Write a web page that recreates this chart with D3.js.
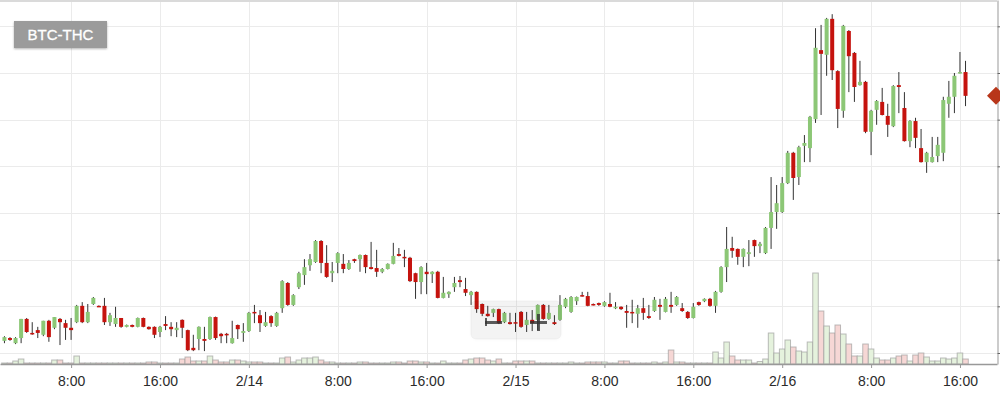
<!DOCTYPE html>
<html>
<head>
<meta charset="utf-8">
<script src="https://cdn.jsdelivr.net/npm/d3@7"></script>
<style>
  html, body { margin:0; padding:0; background:#fff; }
  svg { display:block; font-family:"Liberation Sans", Arial, Helvetica, sans-serif; }
</style>
</head>
<body>
<div id="chart"></div>
<script>
// pair + candle timing (30 min candles)
const pair = "BTC-THC";
const firstCandle = new Date(2018, 1, 13, 2, 0);
const candleMinutes = 30;

// OHLC (price units, gridline step = 10)
const open = [
  22.6,23.2,22.1,23.2,27.3,24.3,24.9,23.9,26.9,25.4,
  27.3,26.4,25.4,26.6,30.1,26.6,30.5,30.1,30.1,26.6,
  26.2,27.5,25.6,26.0,25.6,27.5,25.6,25.6,24.5,26.2,
  25.6,24.9,27.1,24.9,21.1,23.0,23.0,23.0,27.7,24.1,
  24.1,22.1,26.0,24.3,24.7,28.8,28.1,25.8,27.9,25.8,
  29.6,35.0,30.3,34.1,36.7,38.8,39.5,44.0,39.3,37.1,
  39.3,39.1,38.0,40.1,40.1,41.0,38.4,38.2,37.4,38.0,
  39.1,41.2,40.6,40.4,37.1,35.2,37.4,36.9,37.4,31.8,
  32.6,34.1,35.6,33.7,32.4,33.1,30.5,28.4,28.6,29.4,
  26.6,26.6,26.6,28.8,26.0,27.1,27.1,30.3,27.3,26.6,
  27.1,29.9,28.8,31.1,32.4,32.2,30.5,30.7,30.1,30.5,
  29.6,29.9,29.0,28.8,28.4,29.6,27.9,29.0,30.3,28.8,
  30.3,30.3,29.6,28.8,27.5,30.9,31.1,31.6,30.1,33.1,
  38.4,42.5,42.3,40.6,41.2,44.2,42.9,41.4,46.8,50.2,
  50.2,56.4,62.9,57.7,64.4,63.9,70.1,84.9,83.9,91.6,
  80.4,71.9,89.0,84.3,77.4,78.1,67.4,72.1,73.8,70.8,
  68.6,77.4,72.5,65.4,69.7,63.9,60.9,60.9,62.2,62.9,
  73.4,74.9,80.0,80.2
];
const high = [
  23.6,23.4,23.4,27.3,27.5,26.6,25.6,26.9,27.1,27.7,
  27.5,27.1,27.5,30.3,30.9,30.5,32.0,30.2,31.8,28.6,
  29.9,27.5,26.1,26.1,27.6,27.6,25.7,25.7,25.8,27.9,
  26.6,26.6,27.2,25.0,23.9,25.7,25.6,27.8,27.8,24.3,
  24.3,26.9,26.1,26.4,28.8,30.3,29.2,28.8,28.1,28.8,
  35.6,35.2,32.6,37.4,40.1,41.2,44.2,44.2,43.1,39.5,
  41.6,41.2,39.9,40.2,41.1,41.1,43.8,42.1,38.2,39.2,
  43.6,42.5,42.1,40.6,37.2,38.6,39.3,37.5,37.6,36.3,
  33.2,36.3,36.5,36.1,33.3,33.2,30.6,30.1,29.5,29.5,
  28.8,28.6,28.6,29.0,28.8,29.2,30.4,30.5,30.3,28.1,
  32.4,31.8,32.2,32.1,33.1,33.1,30.6,30.8,31.1,32.9,
  30.9,30.0,30.3,31.4,30.3,31.8,30.3,32.0,31.6,32.0,
  33.1,32.2,30.7,29.0,30.7,31.0,31.7,31.8,33.3,38.6,
  47.0,44.9,42.4,42.4,44.2,44.3,43.8,47.0,57.7,56.0,
  57.7,63.3,63.1,64.4,66.7,70.8,89.6,90.3,91.8,92.6,
  80.6,90.3,89.2,84.5,82.6,78.3,72.1,74.2,76.8,73.4,
  77.4,80.2,75.9,69.9,70.4,68.0,63.1,66.3,66.3,74.9,
  78.3,80.0,84.5,82.6
];
const low = [
  22.1,22.6,21.9,22.1,24.3,23.9,23.2,23.6,22.4,25.1,
  21.7,22.8,22.8,26.4,26.4,26.4,30.3,29.9,26.0,25.8,
  25.6,25.4,25.5,25.5,25.5,25.5,25.0,23.2,23.4,24.9,
  23.6,23.4,23.2,20.4,20.4,20.6,20.4,22.8,22.8,22.1,
  22.1,22.0,23.0,22.4,24.5,26.4,24.5,25.6,25.6,25.6,
  28.6,30.1,30.1,33.7,34.6,37.6,39.3,37.1,36.1,35.2,
  37.1,37.1,37.8,39.3,37.4,37.1,37.9,36.3,37.1,37.9,
  39.0,40.7,38.4,35.2,31.6,32.6,32.6,35.0,31.7,31.7,
  31.8,33.1,34.1,32.2,30.3,28.6,27.9,27.8,27.7,26.2,
  26.4,26.1,24.5,25.4,24.5,24.7,24.9,27.1,27.1,26.0,
  26.9,29.6,28.6,30.3,32.1,30.0,30.2,30.1,29.9,29.8,
  29.4,29.2,25.4,26.4,25.4,27.1,27.3,28.8,27.1,28.7,
  28.6,30.1,28.8,27.3,27.4,30.1,30.9,29.9,28.6,32.9,
  35.2,40.4,38.9,38.4,38.6,40.6,41.4,41.2,42.3,46.6,
  50.0,56.2,52.8,56.0,60.9,60.9,69.3,71.0,79.4,78.5,
  68.2,70.4,75.9,73.8,77.3,67.1,62.4,68.9,70.9,66.3,
  68.4,71.4,65.3,64.1,63.9,60.8,58.6,60.8,60.9,61.1,
  70.4,71.4,79.9,72.9
];
const close = [
  23.4,22.8,23.2,27.3,24.5,24.1,24.3,26.9,23.4,27.7,
  26.6,25.4,24.9,30.1,26.6,28.8,31.8,30.0,26.6,28.1,
  27.5,25.6,26.0,25.6,27.5,25.6,25.1,23.9,25.6,25.8,
  25.1,25.4,25.4,20.6,20.6,25.6,22.6,27.7,23.2,23.6,
  23.9,23.2,25.1,24.7,28.6,28.6,26.4,26.6,26.4,28.6,
  35.4,30.3,32.4,37.1,38.4,40.1,44.0,39.3,36.3,37.6,
  41.4,38.0,39.3,39.7,41.0,38.4,38.0,37.4,38.0,39.1,
  40.8,40.8,40.4,35.4,35.2,38.4,36.9,37.4,31.8,32.9,
  33.1,35.0,35.2,32.9,33.1,29.4,28.4,27.9,29.4,26.4,
  28.6,26.2,26.4,25.6,27.1,26.4,30.3,27.3,28.6,26.2,
  30.3,31.6,32.0,32.0,32.2,30.1,30.3,30.3,30.9,29.9,
  29.9,29.4,28.6,28.6,29.6,28.6,27.5,31.4,29.9,31.6,
  29.9,32.0,29.0,27.5,29.9,30.3,31.6,30.1,33.1,38.4,
  42.3,41.9,40.6,42.3,41.6,42.9,43.4,46.8,50.2,52.1,
  56.4,62.9,57.5,64.1,65.0,70.6,85.4,84.1,91.6,80.6,
  72.3,90.1,83.6,77.0,78.1,67.4,71.9,74.0,71.0,68.9,
  77.2,77.0,65.4,69.7,66.1,60.9,62.9,62.0,64.6,74.2,
  74.9,79.4,80.2,75.1
];
const volume = [
  1,1,3,5,1,1,1,1,1,4,
  4,1,1,8,1,1,1,1,1,1,
  1,1,1,1,1,1,2,2,1,1,
  1,1,5,7,3,3,3,8,4,2,
  2,4,4,3,2,2,2,1,1,1,
  6,7,2,4,6,6,7,4,2,2,
  1,1,1,1,2,2,1,1,1,1,
  2,2,1,3,3,2,2,1,1,3,
  1,1,1,4,5,6,6,4,3,5,
  1,1,3,3,3,3,1,1,1,1,
  1,1,2,1,1,2,2,2,2,1,
  1,3,3,1,1,1,1,2,1,2,
  14,2,2,1,1,1,1,1,12,6,
  22,8,4,4,4,1,2.5,5,31,11,
  15,24,17,13,12,22,91,53,38,31,
  39,30,20,8,8,20,15,6,4,4,
  6,8,9,3,9,11,7,3,3,6,
  5,6,11,5
];

const priceTicks = [20, 30, 40, 50, 60, 70, 80, 90];

const data = open.map((o, i) => ({
  time: d3.timeMinute.offset(firstCandle, candleMinutes * i),
  open: o, high: high[i], low: low[i], close: close[i], volume: volume[i]
}));

// =============================
// SETUP
// =============================
const W = 1000, H = 394;
const plotW = 997, plotH = 364;

const svg = d3.select("#chart").append("svg")
  .attr("width", W).attr("height", H);

const x = d3.scaleTime()
  .domain([new Date(2018, 1, 13, 1, 36), new Date(2018, 1, 16, 19, 20)])
  .range([0, plotW]);
const y = d3.scaleLinear().domain([17.64, 95.64]).range([plotH, 0]);
const yVol = d3.scaleLinear().domain([0, 100]).range([plotH, plotH - 100]);

const defs = svg.append("defs");
defs.append("clipPath").attr("id", "plotClip")
  .append("rect").attr("width", plotW).attr("height", plotH);
const shadow = defs.append("filter").attr("id", "shadow")
  .attr("x", "-20%").attr("y", "-20%").attr("width", "140%").attr("height", "160%");
shadow.append("feDropShadow")
  .attr("dx", 0).attr("dy", 1).attr("stdDeviation", 1)
  .attr("flood-color", "#000").attr("flood-opacity", 0.3);

// =============================
// GRID
// =============================
const xTicks = x.ticks(d3.timeHour.every(8));

svg.append("g").selectAll("line")
  .data(priceTicks).join("line")
  .attr("x1", 0).attr("x2", plotW)
  .attr("y1", d => Math.round(y(d)) + 0.5).attr("y2", d => Math.round(y(d)) + 0.5)
  .attr("stroke", "#ebebeb");

svg.append("g").selectAll("line")
  .data(xTicks).join("line")
  .attr("x1", d => Math.round(x(d)) + 0.5).attr("x2", d => Math.round(x(d)) + 0.5)
  .attr("y1", 0).attr("y2", plotH)
  .attr("stroke", "#ebebeb");

svg.append("line")
  .attr("x1", 0).attr("x2", plotW).attr("y1", 1).attr("y2", 1)
  .attr("stroke", "#dadada").attr("stroke-width", 2);

const plot = svg.append("g").attr("clip-path", "url(#plotClip)");

// =============================
// VOLUME
// =============================
const half = (x(d3.timeMinute.offset(firstCandle, candleMinutes)) - x(firstCandle)) / 2;

plot.append("g").selectAll("rect")
  .data(data).join("rect")
  .attr("x", d => x(d.time) - half)
  .attr("width", half * 2)
  .attr("y", d => yVol(d.volume))
  .attr("height", d => plotH - yVol(d.volume))
  .attr("fill", d => d.close >= d.open ? "#e5f2dd" : "#f6d7d5")
  .attr("stroke", "#9a9a9a").attr("stroke-opacity", 0.65).attr("stroke-width", 1);

// =============================
// CANDLES
// =============================
const up = "#8cc776", down = "#c5130e";

plot.append("g").selectAll("line")
  .data(data).join("line")
  .attr("x1", d => x(d.time)).attr("x2", d => x(d.time))
  .attr("y1", d => y(d.high)).attr("y2", d => y(d.low))
  .attr("stroke", "#333").attr("stroke-width", 1);

plot.append("g").selectAll("rect")
  .data(data).join("rect")
  .attr("x", d => x(d.time) - 2)
  .attr("width", 4)
  .attr("y", d => y(Math.max(d.open, d.close)))
  .attr("height", d => Math.max(1.5, Math.abs(y(d.open) - y(d.close))))
  .attr("fill", d => d.close > d.open ? up : down);

// =============================
// AXES
// =============================
const fmt = d => d.getHours() === 0 ? d3.timeFormat("%-m/%-d")(d) : d3.timeFormat("%-H:%M")(d);

svg.append("g")
  .attr("transform", `translate(0,${plotH})`)
  .call(d3.axisBottom(x).tickValues(xTicks).tickFormat(fmt).tickSize(4).tickSizeOuter(0))
  .call(g => g.select(".domain").attr("stroke", "#999").attr("stroke-width", 1.5))
  .call(g => g.selectAll(".tick line").attr("stroke", "#999"))
  .call(g => g.selectAll(".tick text")
    .attr("y", 12).attr("font-size", 14)
    .attr("font-family", "'Liberation Sans', Arial, sans-serif")
    .attr("fill", "#2b2b2b"));

svg.append("g")
  .attr("transform", `translate(${plotW + 0.5},0)`)
  .call(d3.axisRight(y).tickValues(priceTicks).tickFormat("").tickSize(3).tickSizeOuter(0))
  .call(g => g.select(".domain").attr("stroke", "#999"))
  .call(g => g.selectAll(".tick line").attr("stroke", "#666"));

// last price marker
const last = data[data.length - 1];
const ly = y(last.close);
svg.append("path")
  .attr("d", `M987,${ly} L996,${ly - 9} L1005,${ly} L996,${ly + 9} Z`)
  .attr("fill", "#b8361a");

// =============================
// PAIR LABEL + TOOLBAR
// =============================
svg.append("rect")
  .attr("x", 14).attr("y", 21).attr("width", 93).attr("height", 27)
  .attr("fill", "#9b9b9b").attr("filter", "url(#shadow)");
svg.append("text")
  .attr("x", 60.5).attr("y", 40)
  .attr("text-anchor", "middle")
  .attr("font-size", 15).attr("fill", "#fff")
  .attr("stroke", "#fff").attr("stroke-width", 0.3)
  .text(pair);

const tools = svg.append("g");
tools.append("rect")
  .attr("x", 471).attr("y", 301).attr("width", 90).attr("height", 38).attr("rx", 5)
  .attr("fill", "#000").attr("fill-opacity", 0.035)
  .attr("stroke", "#000").attr("stroke-opacity", 0.04)
  .attr("filter", "url(#shadow)");
tools.append("rect").attr("x", 485).attr("y", 321).attr("width", 17).attr("height", 3)
  .attr("fill", "#333").attr("fill-opacity", 0.8);
tools.append("rect").attr("x", 485).attr("y", 318).attr("width", 2).attr("height", 8)
  .attr("fill", "#333").attr("fill-opacity", 0.8);
tools.append("rect").attr("x", 530).attr("y", 321).attr("width", 17).attr("height", 3)
  .attr("fill", "#333").attr("fill-opacity", 0.8);
tools.append("rect").attr("x", 537).attr("y", 314).attr("width", 3).attr("height", 17)
  .attr("fill", "#333").attr("fill-opacity", 0.8);
</script>
</body>
</html>
